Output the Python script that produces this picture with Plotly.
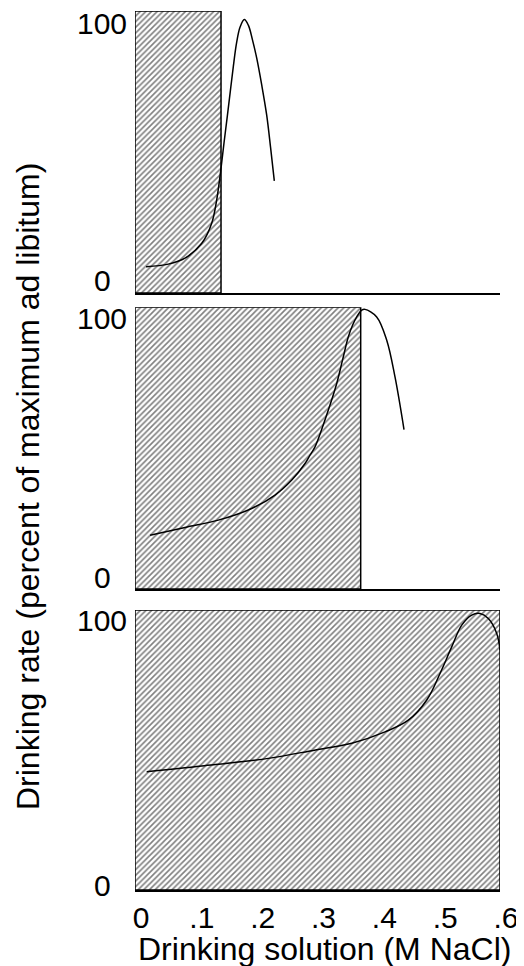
import plotly.graph_objects as go

# ---------------- data ----------------
x_tick_vals = [0, 0.1, 0.2, 0.3, 0.4, 0.5, 0.6]
x_tick_text = ["0", ".1", ".2", ".3", ".4", ".5", ".6"]
y_tick_vals = [0, 100]
y_tick_text = ["0", "100"]

# upper NaCl concentration of the shaded (accepted) region in each panel
shade_limit = [0.1414, 0.371, 0.6]

# panel 1 (top) drinking-rate curve
p1_x = [0.0181, 0.0547, 0.0822, 0.1097, 0.1261, 0.1343, 0.1406, 0.1463, 0.1518,
        0.1567, 0.1616, 0.1669, 0.1726, 0.1797, 0.1863, 0.1932, 0.2001, 0.2083,
        0.2165, 0.2228, 0.229]
p1_y = [5.5, 6.5, 8.8, 14.6, 22.4, 31.4, 42.2, 53.5, 64.0,
        73.6, 83.1, 92.2, 98.4, 101.4, 99.2, 93.4, 86.4, 76.0,
        64.3, 51.9, 38.8]

# panel 2 (middle)
p2_x = [0.0247, 0.0822, 0.1369, 0.1918, 0.2302, 0.2577, 0.2795, 0.2877, 0.2959,
        0.3124, 0.3316, 0.3411, 0.3507, 0.3576, 0.3645, 0.3727, 0.3781, 0.3973,
        0.4138, 0.4274, 0.4422]
p2_y = [16.2, 19.2, 22.0, 26.5, 31.7, 37.5, 43.9, 47.1, 50.3,
        60.8, 74.8, 83.8, 92.8, 97.3, 100.5, 103.1, 103.4, 100.5,
        91.5, 77.3, 57.0]

# panel 3 (bottom)
p3_x = [0.0192, 0.1097, 0.2191, 0.2948, 0.3563, 0.411, 0.4493, 0.4796, 0.5014,
        0.5206, 0.5371, 0.5535, 0.5672, 0.5808, 0.5946, 0.6]
p3_y = [42.9, 45.0, 47.9, 51.0, 53.6, 57.9, 62.3, 69.9, 79.9,
        89.9, 98.1, 101.9, 102.5, 100.6, 95.0, 88.7]

curves_x = [p1_x, p2_x, p3_x]
curves_y = [p1_y, p2_y, p3_y]

# ---------------- layout helpers ----------------
y_ranges = [[-4.7, 104.7], [-4.6, 104.2], [-1.7, 103.8]]
y_domains = [[0.6792, 1.0], [0.3424, 0.6629], [0.0, 0.3185]]
FONT = "Liberation Sans, Arial, sans-serif"
TICK_SIZE = 30
TITLE_SIZE = 32

fig = go.Figure()

for i in range(3):
    xa = "x" if i == 0 else f"x{i+1}"
    ya = "y" if i == 0 else f"y{i+1}"
    y0, y1 = y_ranges[i]
    lim = shade_limit[i]
    fig.add_trace(go.Scatter(
        x=[0, lim, lim, 0, 0], y=[y0, y0, y1, y1, y0],
        mode="lines", fill="toself",
        fillcolor="white",
        fillpattern=dict(shape="/", fgcolor="black", bgcolor="white",
                         size=4, solidity=0.4),
        line=dict(color="black", width=1.5),
        hoverinfo="skip", showlegend=False, cliponaxis=False,
        xaxis=xa, yaxis=ya))
    fig.add_trace(go.Scatter(
        x=curves_x[i], y=curves_y[i], mode="lines",
        line=dict(color="black", width=1.5, shape="spline", smoothing=1.0),
        showlegend=False, cliponaxis=False,
        xaxis=xa, yaxis=ya))

# the page body adds an 8 px offset, so the figure is 8 px smaller and
# the left/top margins 8 px narrower to keep the plot area in place
layout = dict(
    width=516, height=958,
    margin=dict(l=127, r=24, t=3, b=76, autoexpand=False),
    paper_bgcolor="white", plot_bgcolor="white",
    font=dict(family=FONT, color="black", size=TICK_SIZE),
    showlegend=False,
)

annotations = []
for i in range(3):
    xk = "xaxis" if i == 0 else f"xaxis{i+1}"
    yk = "yaxis" if i == 0 else f"yaxis{i+1}"
    ya = "y" if i == 0 else f"y{i+1}"
    xa = "x" if i == 0 else f"x{i+1}"
    layout[xk] = dict(
        domain=[0, 1], anchor=ya, range=[0, 0.6], automargin=False,
        showline=True, linecolor="black", linewidth=1.5,
        showgrid=False, zeroline=False, ticks="",
        tickvals=x_tick_vals, ticktext=x_tick_text,
        showticklabels=(i == 2), ticklabelshift=6,
        tickfont=dict(size=TICK_SIZE, family=FONT, color="black"),
    )
    layout[yk] = dict(
        domain=y_domains[i], anchor=xa, range=y_ranges[i], automargin=False,
        showline=False, showgrid=False, zeroline=False, ticks="",
        showticklabels=False,
    )
    # y tick labels are centred (not right-aligned) in the original figure
    for v, t in zip(y_tick_vals, y_tick_text):
        annotations.append(dict(
            text=t, xref="paper", yref=ya, x=-0.0904, y=v,
            xanchor="center", yanchor="middle", showarrow=False,
            font=dict(size=TICK_SIZE, family=FONT, color="black")))

annotations += [
    dict(text="Drinking rate (percent of maximum ad libitum)",
         xref="paper", yref="paper", x=-0.293, y=0.4585,
         xanchor="center", yanchor="middle", textangle=-90, showarrow=False,
         font=dict(size=TITLE_SIZE, family=FONT, color="black")),
    dict(text="Drinking solution (M NaCl)",
         xref="paper", yref="paper", x=0.5205, y=-0.067,
         xanchor="center", yanchor="middle", showarrow=False,
         font=dict(size=TITLE_SIZE, family=FONT, color="black")),
]
layout["annotations"] = annotations

fig.update_layout(**layout)
fig.write_html("out.html")
